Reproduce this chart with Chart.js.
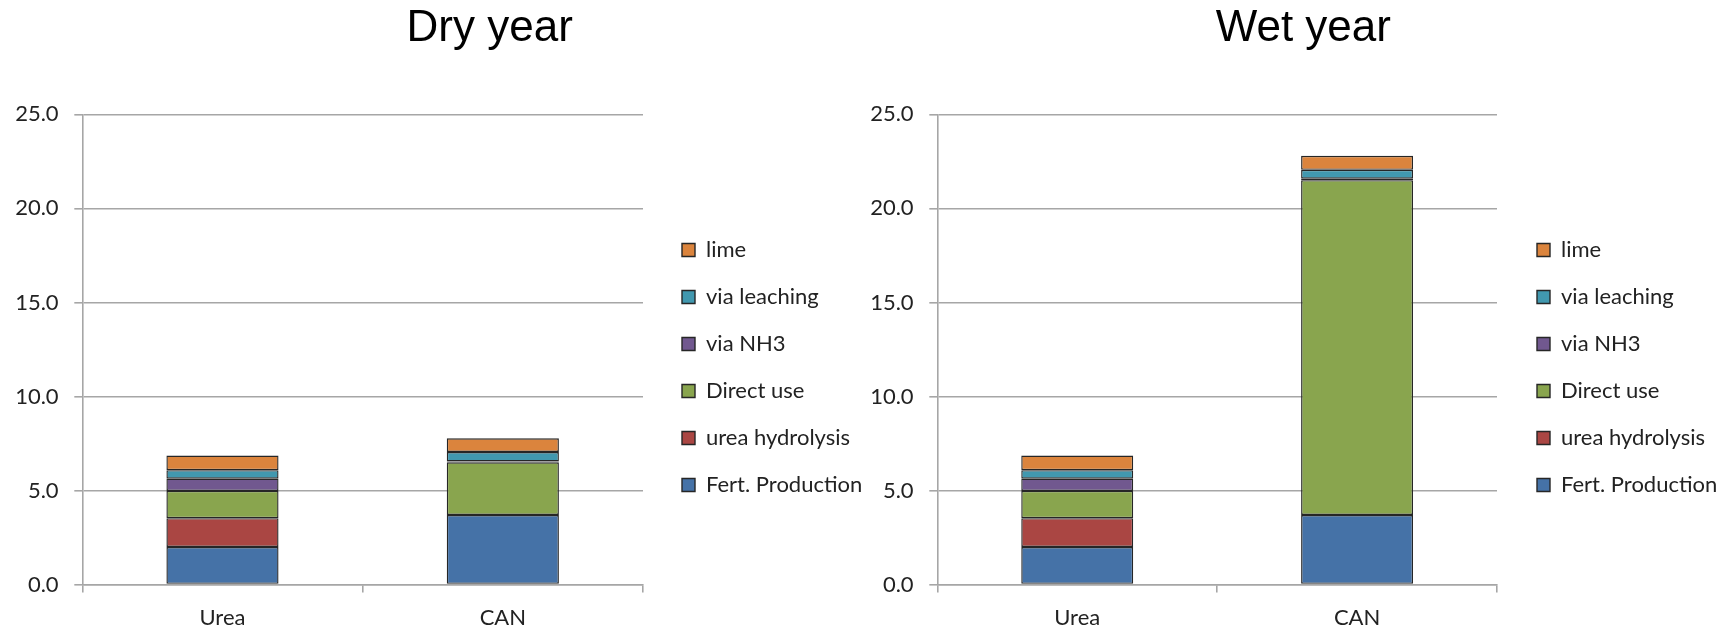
<!DOCTYPE html>
<html>
<head>
<meta charset="utf-8">
<title>Dry year / Wet year</title>
<script src="https://cdn.jsdelivr.net/npm/chart.js@4.4.0/dist/chart.umd.min.js"></script>
<style>
  body { margin: 0; background: #fff; }
  #wrap { position: relative; width: 1733px; height: 629px; overflow: hidden; }
  canvas { position: absolute; top: 0; }
  #dry-chart { left: 0; }
  #wet-chart { left: 855px; }
</style>
</head>
<body>
<div id="wrap">
  <!-- canvases run a bit past the bottom so the x labels sit low enough; #wrap cuts the rest -->
  <canvas id="dry-chart" width="880" height="644"></canvas>
  <canvas id="wet-chart" width="878" height="644"></canvas>
</div>
<script>
// fertilizer types on the x axis
let categories = ['Urea', 'CAN']

// emission sources, bottom of the stack first
let sourceNames = ['Fert. Production', 'urea hydrolysis', 'Direct use', 'via NH3', 'via leaching', 'lime']
let sourceColors = ['#4572A7', '#AA4643', '#89A54E', '#71588F', '#4198AF', '#DB843D']

// dry year (Urea, CAN)
let dryFertProduction = [2.0, 3.7]
let dryUreaHydrolysis = [1.53, 0]
let dryDirectUse = [1.45, 2.8]
let dryViaNH3 = [0.65, 0.05]
let dryViaLeaching = [0.45, 0.5]
let dryLime = [0.78, 0.73]

// wet year (Urea, CAN)
let wetFertProduction = [2.0, 3.7]
let wetUreaHydrolysis = [1.53, 0]
let wetDirectUse = [1.45, 17.8]
let wetViaNH3 = [0.65, 0.08]
let wetViaLeaching = [0.45, 0.47]
let wetLime = [0.78, 0.74]

// y axis ticks
let yMin = 0
let yMax = 25
let yStep = 5

let gridColor = '#a6a6a6'
let textColor = '#222'
let labelFont = { family: 'Lato', size: 22 }

// moves the title and the legend to fixed spots after chart.js has done its layout
let placeBoxes = {
    id: 'placeBoxes',
    afterLayout(chart, args, opts) {
        let t = chart.titleBlock
        if (t) {
            t.left = opts.titleX - 250
            t.right = opts.titleX + 250
        }
        let lg = chart.legend
        if (lg) {
            let w = lg.width
            let h = lg.height
            lg.left = opts.legendX
            lg.right = opts.legendX + w
            lg.top = opts.legendY
            lg.bottom = opts.legendY + h
        }
    }
}

function makeChart(canvasId, titleText, titleX, rightPad, seriesList) {
    let datasets = seriesList.map(function(values, i) {
        return {
            label: sourceNames[i],
            data: values,
            backgroundColor: sourceColors[i],
            borderColor: '#262626',
            borderWidth: 1.4,
            borderSkipped: false,
            categoryPercentage: 1.0,
            barPercentage: 0.4
        }
    })

    let ctx = document.getElementById(canvasId).getContext('2d')
    return new Chart(ctx, {
        type: 'bar',
        data: { labels: categories, datasets: datasets },
        plugins: [placeBoxes],
        options: {
            responsive: false,
            animation: false,
            devicePixelRatio: 1,
            layout: { padding: { left: 0, top: 0, right: rightPad, bottom: 0 } },
            scales: {
                x: {
                    stacked: true,
                    offset: true,
                    grid: { offset: true, drawOnChartArea: false, color: gridColor, lineWidth: 1.6, tickLength: 8 },
                    border: { color: gridColor, width: 1.6 },
                    ticks: { color: textColor, font: labelFont, padding: 12.5 }
                },
                y: {
                    stacked: true,
                    min: yMin,
                    max: yMax,
                    afterFit: function(scale) { scale.width = 82.3 },
                    grid: { color: gridColor, lineWidth: 1.6, tickLength: 8 },
                    border: { color: gridColor, width: 1.6 },
                    ticks: {
                        stepSize: yStep,
                        color: textColor,
                        font: labelFont,
                        padding: 15.7,
                        callback: function(v) { return v.toFixed(1) }
                    }
                }
            },
            plugins: {
                title: {
                    display: true,
                    text: titleText,
                    color: '#000',
                    font: { family: 'Liberation Sans', size: 44, weight: 'normal' },
                    padding: { top: 2, bottom: 59.5 }
                },
                legend: {
                    position: 'chartArea',
                    align: 'start',
                    reverse: true,
                    labels: {
                        color: textColor,
                        font: labelFont,
                        boxWidth: 13,
                        boxHeight: 13,
                        padding: 25
                    }
                },
                tooltip: { enabled: false },
                placeBoxes: { titleX: titleX, legendX: 657, legendY: 214 }
            }
        }
    })
}

let dryChart = makeChart('dry-chart', 'Dry year', 489.7, 237,
    [dryFertProduction, dryUreaHydrolysis, dryDirectUse, dryViaNH3, dryViaLeaching, dryLime])

let wetChart = makeChart('wet-chart', 'Wet year', 448.3, 236,
    [wetFertProduction, wetUreaHydrolysis, wetDirectUse, wetViaNH3, wetViaLeaching, wetLime])
</script>
</body>
</html>
